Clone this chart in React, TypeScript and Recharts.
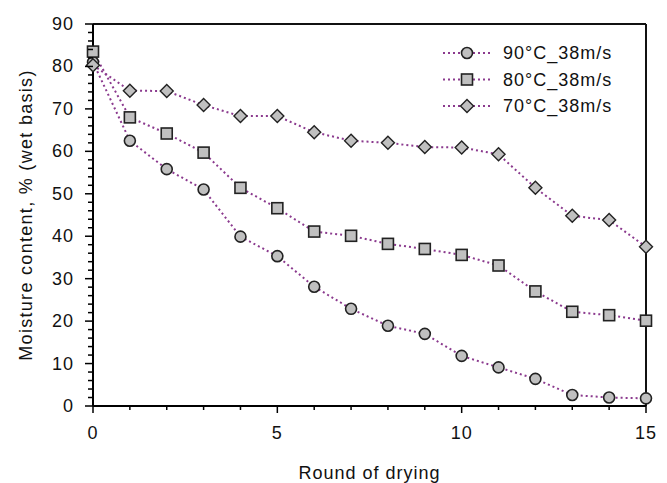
import React from 'react';
import { LineChart, Line, XAxis, YAxis, ReferenceLine } from 'recharts';

const rounds = [0, 1, 2, 3, 4, 5, 6, 7, 8, 9, 10, 11, 12, 13, 14, 15];
const temp90 = [81, 62.5, 55.8, 51, 39.9, 35.3, 28.1, 22.9, 18.9, 17, 11.8, 9.1, 6.4, 2.6, 2.0, 1.8];
const temp80 = [83.5, 68, 64.2, 59.7, 51.4, 46.6, 41.1, 40.1, 38.2, 37, 35.6, 33.1, 27, 22.2, 21.4, 20.1];
const temp70 = [80.3, 74.3, 74.2, 70.9, 68.3, 68.3, 64.5, 62.5, 62, 61, 60.9, 59.3, 51.4, 44.8, 43.8, 37.5];
const seriesNames = ['90°C_38m/s', '80°C_38m/s', '70°C_38m/s'];
const yTicks = Array.from({ length: 46 }, (_, i) => i * 2);

const data = rounds.map((r, i) => ({ round: r, a: temp90[i], b: temp80[i], c: temp70[i] }));

const LINE = '#8B3A8E';
const FILL = '#C0C0C0';
const EDGE = '#222';
const FONT = '"Liberation Sans", Arial, sans-serif';

type Shape = 'circle' | 'square' | 'diamond';

const marker = (shape: Shape, cx: number, cy: number, key?: string) => {
  if (shape === 'circle')
    return <circle key={key} cx={cx} cy={cy} r={5.5} fill={FILL} stroke={EDGE} strokeWidth={1.6} />;
  if (shape === 'square')
    return <rect key={key} x={cx - 5.5} y={cy - 5.5} width={11} height={11} fill={FILL} stroke={EDGE} strokeWidth={1.6} />;
  return (
    <polygon
      key={key}
      points={`${cx},${cy - 6.5} ${cx + 6.5},${cy} ${cx},${cy + 6.5} ${cx - 6.5},${cy}`}
      fill={FILL}
      stroke={EDGE}
      strokeWidth={1.4}
    />
  );
};

const dotFor = (shape: Shape) => (props: any) => marker(shape, props.cx, props.cy, `${shape}-${props.index}`);

const YTick = ({ x, y, payload }: any) => {
  const major = payload.value % 10 === 0;
  return (
    <g>
      <line x1={x - (major ? 8 : 5)} x2={x} y1={y} y2={y} stroke="#000" strokeWidth={1.5} />
      {major && (
        <text x={x - 19} y={y + 6} textAnchor="end" fontSize={18} letterSpacing={1} fontFamily={FONT} fill="#111">
          {payload.value}
        </text>
      )}
    </g>
  );
};

const XTick = ({ x, y, payload }: any) => {
  const major = payload.value % 5 === 0;
  return (
    <g>
      <line x1={x} x2={x} y1={y} y2={y + (major ? 7 : 4)} stroke="#000" strokeWidth={1.5} />
      {major && (
        <text x={x} y={y + 33} textAnchor="middle" fontSize={18} letterSpacing={1} fontFamily={FONT} fill="#111">
          {payload.value}
        </text>
      )}
    </g>
  );
};

const shapes: Shape[] = ['circle', 'square', 'diamond'];

const LegendBox = () => (
  <svg width={230} height={90} style={{ position: 'absolute', left: 430, top: 38 }}>
    {seriesNames.map((name, i) => {
      const cy = 15 + i * 26.5;
      return (
        <g key={name}>
          <line x1={13} x2={60} y1={cy} y2={cy} stroke={LINE} strokeWidth={2} strokeDasharray="2 3" />
          {marker(shapes[i], 37, cy)}
          <text x={73} y={cy + 6} fontSize={18} letterSpacing={1} fontFamily={FONT} fill="#111">
            {name}
          </text>
        </g>
      );
    })}
  </svg>
);

export default function App() {
  return (
    <div style={{ width: 667, height: 483, position: 'relative' }}>
      <style>{`body{margin:0}`}</style>
      <LineChart width={667} height={483} data={data} margin={{ top: 24, right: 21, left: 0, bottom: 0 }}>
        <XAxis
          dataKey="round"
          type="number"
          domain={[0, 15]}
          ticks={rounds}
          tickSize={0}
          tickMargin={0}
          height={77}
          tick={<XTick />}
          axisLine={{ stroke: '#000', strokeWidth: 2 }}
          label={{
            content: ({ viewBox }: any) => (
              <text
                x={viewBox.x + viewBox.width / 2}
                y={viewBox.y + 73}
                textAnchor="middle"
                fontSize={18}
                letterSpacing={1}
                fontFamily={FONT}
                fill="#111"
              >
                Round of drying
              </text>
            ),
          }}
        />
        <YAxis
          type="number"
          domain={[0, 90]}
          ticks={yTicks}
          interval={0}
          tickSize={0}
          tickMargin={0}
          width={93}
          tick={<YTick />}
          axisLine={{ stroke: '#000', strokeWidth: 2 }}
          label={{
            content: ({ viewBox }: any) => {
              const cx = viewBox.x + 27;
              const cy = viewBox.y + viewBox.height / 2;
              return (
                <text
                  x={cx}
                  y={cy}
                  transform={`rotate(-90 ${cx} ${cy})`}
                  textAnchor="middle"
                  dominantBaseline="middle"
                  fontSize={18}
                  letterSpacing={1.3}
                  fontFamily={FONT}
                  fill="#111"
                >
                  Moisture content, % (wet basis)
                </text>
              );
            },
          }}
        />
        <ReferenceLine y={90} stroke="#111" strokeWidth={2} />
        <ReferenceLine x={15} stroke="#111" strokeWidth={2} />
        <Line dataKey="a" stroke={LINE} strokeWidth={2} strokeDasharray="2 3" dot={dotFor('circle')} isAnimationActive={false} />
        <Line dataKey="b" stroke={LINE} strokeWidth={2} strokeDasharray="2 3" dot={dotFor('square')} isAnimationActive={false} />
        <Line dataKey="c" stroke={LINE} strokeWidth={2} strokeDasharray="2 3" dot={dotFor('diamond')} isAnimationActive={false} />
      </LineChart>
      <LegendBox />
    </div>
  );
}
